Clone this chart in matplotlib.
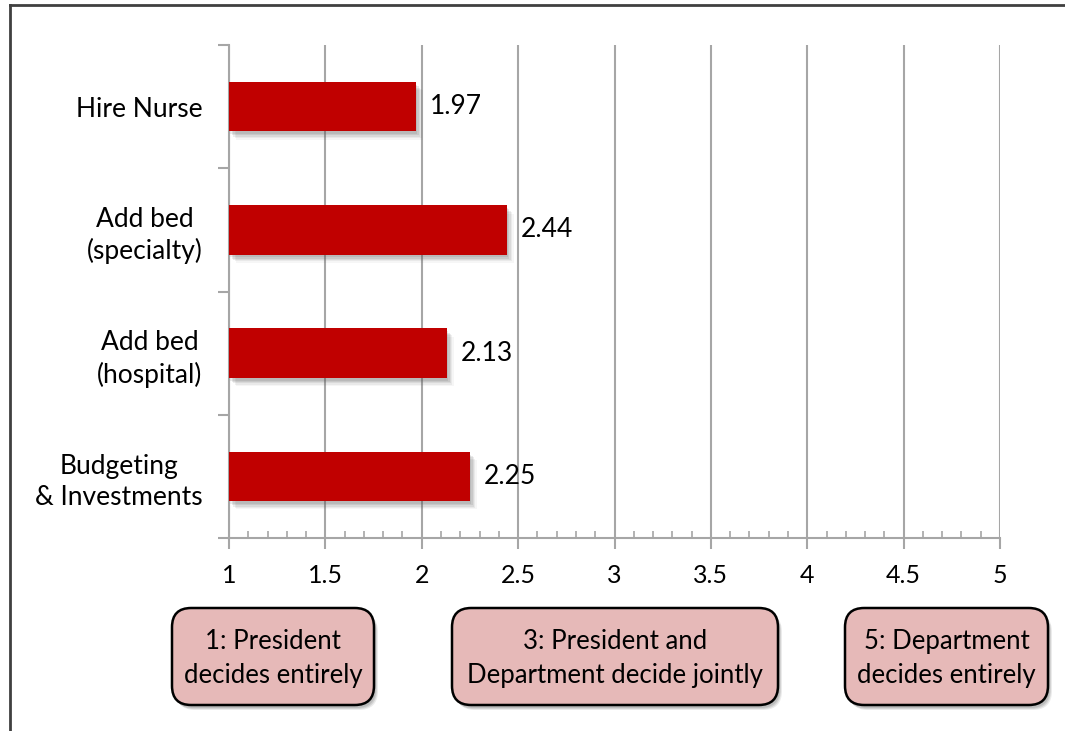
import matplotlib.pyplot as plt
import matplotlib.patheffects as pe
from matplotlib.patches import FancyBboxPatch
from matplotlib.lines import Line2D
from matplotlib.ticker import MultipleLocator

plt.rcParams['font.family'] = ['Lato', 'DejaVu Sans']

# decision items, top to bottom, and their mean scores
categories = ["Hire Nurse", "Add bed\n(specialty)", "Add bed\n(hospital)", "Budgeting\n& Investments"]
scores = [1.97, 2.44, 2.13, 2.25]
scale_notes = ["1: President\ndecides entirely",
               "3: President and\nDepartment decide jointly",
               "5: Department\ndecides entirely"]

bar_color = "#C00000"
grid_color = "#A6A6A6"

fig = plt.figure(figsize=(10.65, 7.31), dpi=100)
ax = fig.add_axes([229 / 1065, 1 - 538 / 731, 771 / 1065, 493 / 731])

ypos = list(range(len(categories)))[::-1]
bars = ax.barh(ypos, [s - 1 for s in scores], left=1, height=0.4, color=bar_color, zorder=3)
# soft drop shadow built from a few faint offset copies
shadow = [pe.SimplePatchShadow(offset=(dx, -dy), shadow_rgbFace="#555555", alpha=a)
          for dx, dy, a in [(1, 2, 0.12), (2, 3, 0.12), (3, 4, 0.10), (4, 5, 0.08), (5, 6, 0.05)]]
for b in bars:
    b.set_path_effects(shadow + [pe.Normal()])

for y, s in zip(ypos, scores):
    ax.annotate(f"{s:.2f}", (s, y), xytext=(10, 0), textcoords="offset points",
                va="center", ha="left", fontsize=19)

ax.set_xlim(1, 5)
ax.set_ylim(-0.5, len(categories) - 0.5)
ax.xaxis.set_major_locator(MultipleLocator(0.5))
ax.xaxis.set_minor_locator(MultipleLocator(0.1))
ax.set_xticklabels([f"{t:g}" for t in ax.get_xticks()])
ax.grid(axis="x", color=grid_color, linewidth=1.5, zorder=0)
ax.tick_params(axis="x", which="major", direction="out", length=8, width=1.5,
               color=grid_color, labelsize=18, pad=11)
ax.tick_params(axis="x", which="minor", direction="in", length=5, width=1.2, color=grid_color)

# category labels sit between the boundary ticks
ax.set_yticks([y - 0.5 for y in range(len(categories) + 1)])
ax.set_yticklabels([])
ax.set_yticks(ypos, minor=True)
ax.set_yticklabels(categories, minor=True, fontsize=19, ha="right", multialignment="center",
                   linespacing=1.3)
ax.tick_params(axis="y", which="major", direction="out", length=8, width=1.5, color=grid_color)
ax.tick_params(axis="y", which="minor", length=0, pad=19)

for side in ("top", "right"):
    ax.spines[side].set_visible(False)
for side in ("left", "bottom"):
    ax.spines[side].set_color(grid_color)
    ax.spines[side].set_linewidth(1.5)

# scale notes under the axis
boxes = [(172, 202), (452, 326), (845, 203)]
for (x0, w), note in zip(boxes, scale_notes):
    fx, fw = x0 / 1065, w / 1065
    fy, fh = 1 - 705 / 731, 97 / 731
    for k, a in enumerate([0.10, 0.10, 0.08]):
        sh = FancyBboxPatch((fx + (2 + k) / 1065, fy - (3 + k) / 731), fw, fh,
                            boxstyle="round,pad=0,rounding_size=0.018",
                            transform=fig.transFigure, facecolor="black", edgecolor="none",
                            alpha=a, mutation_aspect=1065 / 731)
        fig.add_artist(sh)
    box = FancyBboxPatch((fx, fy), fw, fh, boxstyle="round,pad=0,rounding_size=0.018",
                         transform=fig.transFigure, facecolor="#E6B9B8", edgecolor="black",
                         linewidth=1.8, mutation_aspect=1065 / 731)
    fig.add_artist(box)
    fig.text(fx + fw / 2, fy + fh / 2 - 2 / 731, note, ha="center", va="center",
             fontsize=18.5, linespacing=1.45)

# outer frame
fig.add_artist(Line2D([10 / 1065, 1], [1 - 5 / 731] * 2, transform=fig.transFigure,
                      color="#404040", linewidth=2))
fig.add_artist(Line2D([10 / 1065] * 2, [0, 1 - 5 / 731], transform=fig.transFigure,
                      color="#404040", linewidth=2))

fig.savefig("out.png", dpi=100)
